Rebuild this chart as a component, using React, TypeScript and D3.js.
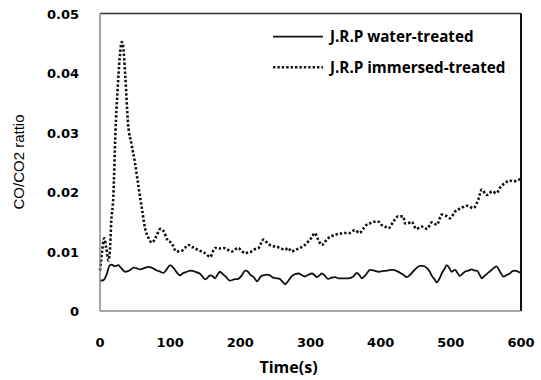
import React from "react";
import * as d3 from "d3";

const waterT = [0,5,9,14,17,21,26,31,36,42,48,52,57,63,69,75,81,86,90,95,100,105,110,114,119,124,129,133,138,142,146,150,154,157,161,164,168,171,175,179,185,191,197,202,207,211,214,219,224,229,233,238,242,247,252,256,261,264,268,273,278,283,288,292,297,302,306,309,313,316,320,325,330,335,340,347,354,361,366,370,373,378,385,391,397,403,409,414,418,423,428,433,437,442,446,451,456,461,466,470,473,477,480,484,487,491,494,498,501,506,510,513,517,520,525,530,534,537,541,544,548,551,555,558,562,565,570,575,580,584,588,592,596,600];
const waterV = [0.0051,0.0052,0.0060,0.0077,0.0078,0.0075,0.0077,0.0071,0.0066,0.0068,0.0073,0.0072,0.0070,0.0072,0.0074,0.0072,0.0068,0.0066,0.0064,0.0070,0.0077,0.0072,0.0064,0.0060,0.0064,0.0066,0.0068,0.0067,0.0065,0.0063,0.0058,0.0053,0.0057,0.0060,0.0058,0.0055,0.0062,0.0066,0.0062,0.0058,0.0051,0.0053,0.0054,0.0060,0.0068,0.0066,0.0061,0.0057,0.0050,0.0058,0.0060,0.0061,0.0060,0.0056,0.0055,0.0054,0.0048,0.0045,0.0050,0.0058,0.0062,0.0063,0.0060,0.0058,0.0061,0.0063,0.0060,0.0057,0.0060,0.0063,0.0060,0.0054,0.0056,0.0057,0.0055,0.0055,0.0055,0.0058,0.0064,0.0060,0.0055,0.0060,0.0069,0.0068,0.0066,0.0067,0.0068,0.0069,0.0069,0.0067,0.0064,0.0060,0.0057,0.0061,0.0066,0.0072,0.0076,0.0076,0.0072,0.0066,0.0059,0.0053,0.0048,0.0055,0.0063,0.0071,0.0077,0.0072,0.0066,0.0069,0.0063,0.0059,0.0063,0.0066,0.0068,0.0070,0.0068,0.0068,0.0061,0.0055,0.0059,0.0062,0.0066,0.0069,0.0073,0.0075,0.0066,0.0058,0.0061,0.0063,0.0067,0.0068,0.0066,0.0064];

const immT = [0,3,6,9,12,14,16,19,22,25,28,31,33,36,40,45,50,55,60,64,69,74,80,86,90,96,102,109,116,121,126,130,135,140,145,150,157,164,170,176,182,188,193,197,202,207,212,216,221,226,233,238,242,247,252,258,264,268,273,279,285,291,297,302,306,311,316,320,323,329,335,342,349,356,363,370,375,380,386,390,397,401,406,411,418,425,432,435,440,444,451,458,466,473,480,487,493,499,506,515,523,532,539,544,551,559,565,570,577,584,590,594,600];
const immV = [0.0068,0.0100,0.0122,0.0105,0.0085,0.0100,0.0150,0.0192,0.0300,0.0370,0.0425,0.0452,0.0445,0.0395,0.0315,0.0280,0.0248,0.0208,0.0170,0.0140,0.0123,0.0115,0.0125,0.0138,0.0135,0.0120,0.0114,0.0100,0.0101,0.0106,0.0111,0.0108,0.0106,0.0102,0.0100,0.0097,0.0091,0.0106,0.0105,0.0106,0.0103,0.0100,0.0104,0.0106,0.0101,0.0097,0.0099,0.0100,0.0104,0.0106,0.0120,0.0115,0.0111,0.0109,0.0108,0.0105,0.0103,0.0106,0.0100,0.0103,0.0106,0.0110,0.0117,0.0124,0.0131,0.0120,0.0111,0.0115,0.0120,0.0125,0.0128,0.0130,0.0131,0.0131,0.0136,0.0131,0.0138,0.0145,0.0148,0.0150,0.0150,0.0145,0.0142,0.0139,0.0150,0.0159,0.0159,0.0147,0.0148,0.0150,0.0138,0.0142,0.0138,0.0149,0.0145,0.0162,0.0160,0.0156,0.0167,0.0173,0.0177,0.0173,0.0187,0.0204,0.0195,0.0201,0.0198,0.0207,0.0215,0.0219,0.0218,0.0219,0.0223];

const xTicks = [0, 100, 200, 300, 400, 500, 600];
const yTicks = [0, 0.01, 0.02, 0.03, 0.04, 0.05];
const seriesNames = ["J.R.P water-treated", "J.R.P immersed-treated"];

export default function App() {
  const W = 541, H = 380;
  const L = 100, R = 521, T = 13.5, B = 311;
  const x = d3.scaleLinear().domain([0, 600]).range([L, R]);
  const y = d3.scaleLinear().domain([0, 0.05]).range([B, T]);
  const line = d3.line<[number, number]>().x(d => x(d[0])).y(d => y(d[1])).curve(d3.curveMonotoneX);
  const water = waterT.map((t, i) => [t, waterV[i]] as [number, number]);
  const imm = immT.map((t, i) => [t, immV[i]] as [number, number]);
  const tickFont = "'DejaVu Sans', sans-serif";
  return (
    <svg width={W} height={H} style={{ position: "absolute", left: 0, top: 0, background: "#fff" }}>
      <rect x={0} y={0} width={W} height={H} fill="#fff" />
      <path d={line(imm) || ""} fill="none" stroke="#111" strokeWidth={2.6} strokeDasharray="2.4 2" />
      <path d={line(water) || ""} fill="none" stroke="#111" strokeWidth={1.8} />
      <line x1={L} x2={R} y1={T} y2={T} stroke="#333" strokeWidth={1.5} />
      <line x1={R} x2={R} y1={T} y2={B} stroke="#111" strokeWidth={2} />
      <line x1={L} x2={L} y1={T} y2={B} stroke="#888" strokeWidth={1.5} />
      <line x1={L} x2={R} y1={B} y2={B} stroke="#888" strokeWidth={1.5} />
      {yTicks.map(v => (
        <text key={v} x={79} y={y(v) + 5} textAnchor="end" fontFamily={tickFont} fontWeight="bold" fontSize={13} fill="#000">
          {v === 0 ? "0" : v.toFixed(2)}
        </text>
      ))}
      {xTicks.map(v => (
        <text key={v} x={x(v)} y={346.5} textAnchor="middle" fontFamily={tickFont} fontWeight="bold" fontSize={13} fill="#000">
          {v}
        </text>
      ))}
      <text x={288.5} y={372.5} textAnchor="middle" fontFamily="'Open Sans', sans-serif" fontWeight="bold" fontSize={16} fill="#000">Time(s)</text>
      <text transform="translate(24,162) rotate(-90)" textAnchor="middle" fontFamily="'Liberation Sans', Arial, sans-serif" fontSize={15} fill="#000">CO/CO2 rattio</text>
      <line x1={273} x2={323} y1={36.7} y2={36.7} stroke="#111" strokeWidth={1.8} />
      <line x1={273} x2={323} y1={67.3} y2={67.3} stroke="#111" strokeWidth={2.6} strokeDasharray="2.4 2" />
      <text x={330} y={42} fontFamily="'Open Sans', sans-serif" fontWeight="bold" fontSize={15.2} fill="#000">{seriesNames[0]}</text>
      <text x={330} y={73} fontFamily="'Open Sans', sans-serif" fontWeight="bold" fontSize={15.2} fill="#000">{seriesNames[1]}</text>
    </svg>
  );
}
